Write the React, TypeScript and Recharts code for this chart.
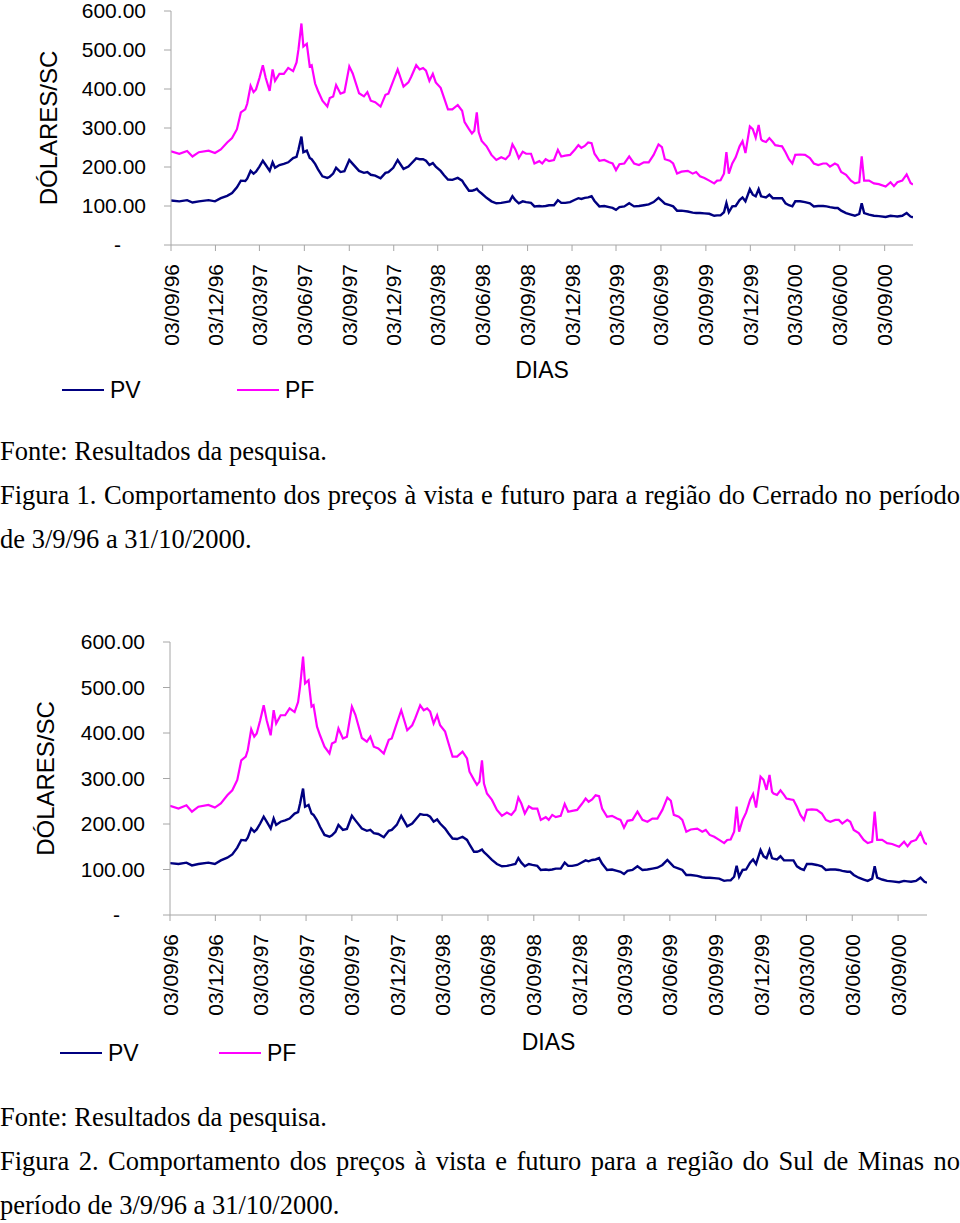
import React from "react"
import { LineChart, Line, XAxis, YAxis, Legend } from "recharts"

// Preços diários (US$/saca); as duas regiões têm curvas praticamente iguais
const dias = [
  "1996-09-03", "1996-09-20", "1996-10-06", "1996-10-17", "1996-10-30", "1996-11-19", "1996-12-02", "1996-12-14", "1996-12-27",
  "1997-01-06", "1997-01-16", "1997-01-24", "1997-02-02", "1997-02-06", "1997-02-13", "1997-02-19", "1997-02-24",
  "1997-03-03", "1997-03-10", "1997-03-16", "1997-03-24", "1997-03-30", "1997-04-04", "1997-04-13", "1997-04-22",
  "1997-05-01", "1997-05-11", "1997-05-18", "1997-05-22", "1997-05-28", "1997-06-01", "1997-06-08", "1997-06-14", "1997-06-18", "1997-06-25",
  "1997-07-01", "1997-07-10", "1997-07-20", "1997-07-25", "1997-08-01", "1997-08-07", "1997-08-16", "1997-08-24",
  "1997-09-03", "1997-09-10", "1997-09-23", "1997-10-03", "1997-10-10", "1997-10-17", "1997-10-26",
  "1997-11-06", "1997-11-16", "1997-11-22", "1997-12-02", "1997-12-11", "1997-12-23",
  "1998-01-02", "1998-01-08", "1998-01-18", "1998-01-25", "1998-02-01", "1998-02-07", "1998-02-14", "1998-02-21", "1998-02-27",
  "1998-03-09", "1998-03-16", "1998-03-24", "1998-04-02", "1998-04-13", "1998-04-22", "1998-04-27",
  "1998-05-06", "1998-05-12", "1998-05-17", "1998-05-22", "1998-05-26", "1998-06-01", "1998-06-11", "1998-06-21",
  "1998-07-01", "1998-07-11", "1998-07-20", "1998-07-28", "1998-08-03", "1998-08-09", "1998-08-16", "1998-08-24", "1998-08-31",
  "1998-09-10", "1998-09-17", "1998-09-27", "1998-10-03", "1998-10-10", "1998-10-17", "1998-10-27",
  "1998-11-04", "1998-11-11", "1998-11-19", "1998-11-29", "1998-12-09", "1998-12-16", "1998-12-22", "1998-12-29",
  "1999-01-05", "1999-01-12", "1999-01-18", "1999-01-28", "1999-02-07", "1999-02-17", "1999-02-24",
  "1999-03-03", "1999-03-10", "1999-03-20", "1999-03-30", "1999-04-09", "1999-04-19", "1999-04-29",
  "1999-05-09", "1999-05-19", "1999-05-29", "1999-06-05", "1999-06-11", "1999-06-21", "1999-06-28",
  "1999-07-06", "1999-07-15", "1999-07-28", "1999-08-07", "1999-08-14", "1999-08-22", "1999-08-31",
  "1999-09-10", "1999-09-20", "1999-09-26", "1999-10-03", "1999-10-10", "1999-10-15", "1999-10-20", "1999-10-27",
  "1999-11-03", "1999-11-11", "1999-11-17", "1999-11-23", "1999-12-02", "1999-12-08", "1999-12-14", "1999-12-20", "1999-12-25", "1999-12-28",
  "2000-01-04", "2000-01-11", "2000-01-18", "2000-01-23", "2000-01-31", "2000-02-06", "2000-02-13", "2000-02-20", "2000-02-27",
  "2000-03-04", "2000-03-14", "2000-03-24", "2000-04-03", "2000-04-11", "2000-04-20", "2000-04-30",
  "2000-05-07", "2000-05-14", "2000-05-24", "2000-05-30", "2000-06-06", "2000-06-16", "2000-06-26",
  "2000-07-04", "2000-07-13", "2000-07-18", "2000-07-23", "2000-08-02", "2000-08-12", "2000-08-22",
  "2000-09-05", "2000-09-15", "2000-09-22", "2000-09-29", "2000-10-09", "2000-10-18", "2000-10-26", "2000-10-31",
]

const pv = [
  114, 112, 115, 109, 112, 115, 112, 120, 126,
  133, 148, 165, 164, 170, 190, 183, 188,
  201, 216, 205, 190, 212, 198, 205, 208,
  212, 223, 226, 245, 278, 238, 242, 223, 220, 208,
  194, 176, 172, 175, 183, 198, 187, 189,
  218, 208, 190, 185, 187, 180, 178,
  171, 185, 187, 198, 218, 195,
  201, 209, 222, 220, 220, 216, 205, 210, 201,
  190, 179, 168, 167, 172, 165, 155,
  139, 139, 141, 144, 138, 132, 121, 112,
  107, 108, 110, 112, 125, 115, 107, 112, 110,
  108, 99, 100, 99, 100, 102, 102,
  115, 108, 108, 110, 116, 120, 118, 121,
  122, 125, 113, 99, 100, 97, 95,
  90, 97, 99, 107, 99, 100, 102,
  104, 110, 121, 113, 106, 102, 99,
  88, 88, 86, 83, 82, 82, 81,
  80, 75, 76, 76, 84, 108, 84, 99,
  100, 115, 122, 112, 143, 129, 125, 143, 125, 124,
  122, 129, 120, 120, 120, 120, 107, 102, 99,
  112, 112, 110, 107, 99, 100, 100,
  99, 97, 95, 95, 88, 82, 78,
  75, 80, 107, 82, 78, 75, 74,
  72, 75, 74, 73, 75, 82, 73, 71,
]

const pf = [
  240, 234, 241, 227, 238, 242, 236, 245, 263,
  274, 297, 340, 348, 362, 408, 392, 399,
  428, 461, 428, 395, 450, 421, 439, 439,
  454, 446, 468, 502, 568, 509, 516, 458, 461, 414,
  395, 370, 355, 377, 381, 410, 388, 392,
  458, 440, 389, 381, 392, 370, 366,
  355, 385, 388, 421, 450, 406,
  417, 432, 461, 450, 454, 447, 421, 439, 417,
  403, 377, 348, 348, 359, 344, 315,
  297, 286, 293, 340, 289, 267, 253, 231,
  218, 225, 220, 231, 258, 245, 223, 239, 234,
  234, 209, 215, 209, 220, 215, 218,
  244, 227, 229, 231, 245, 256, 249, 254,
  263, 261, 234, 216, 218, 212, 209,
  192, 207, 209, 227, 209, 205, 212,
  212, 231, 258, 251, 220, 216, 209,
  183, 188, 190, 183, 187, 176, 172,
  165, 158, 165, 166, 183, 238, 183, 209,
  225, 253, 266, 236, 304, 297, 275, 308, 271, 267,
  264, 274, 264, 256, 254, 253, 238, 220, 209,
  231, 232, 231, 223, 209, 205, 209,
  209, 201, 209, 205, 187, 180, 165,
  158, 161, 227, 165, 165, 158, 156,
  150, 161, 151, 161, 165, 181, 159, 155,
]

const trimestres = [
  "1996-09-03", "1996-12-03", "1997-03-03", "1997-06-03", "1997-09-03", "1997-12-03",
  "1998-03-03", "1998-06-03", "1998-09-03", "1998-12-03", "1999-03-03", "1999-06-03",
  "1999-09-03", "1999-12-03", "2000-03-03", "2000-06-03", "2000-09-03",
]
const ticksY = [0, 100, 200, 300, 400, 500, 600]
const inicio = "1996-09-03"
const fim = "2000-10-31"

const SANS = "'Liberation Sans', Arial, sans-serif"
const SERIF = "'Liberation Serif', 'Times New Roman', serif"
const AZUL = "#000080"
const ROSA = "#ff00ff"
const EIXO = "#a6a6a6"

const toT = (s: string) => {
  const [a, m, d] = s.split("-").map(Number)
  return Date.UTC(a, m - 1, d)
}
const fmtData = (t: number) => {
  const d = new Date(t)
  const p = (n: number) => String(n).padStart(2, "0")
  return `${p(d.getUTCDate())}/${p(d.getUTCMonth() + 1)}/${p(d.getUTCFullYear() % 100)}`
}

const dados = dias.map((d, i) => ({ t: toT(d), pv: pv[i], pf: pf[i] }))

function TickX(props: any) {
  const { x, y, payload } = props
  return (
    <text
      transform={`translate(${x + 7.5},${y + 13}) rotate(-90)`}
      textAnchor="end"
      fontSize={21}
      fontFamily={SANS}
      fill="#000"
    >
      {fmtData(payload.value)}
    </text>
  )
}

function TickY(props: any) {
  const { x, y, payload } = props
  const v = payload.value
  return (
    <text x={v === 0 ? x - 25 : x} y={y} dy="0.35em" textAnchor="end" fontSize={21} fontFamily={SANS} fill="#000">
      {v === 0 ? "-" : v.toFixed(2)}
    </text>
  )
}

function RotuloY(props: any) {
  const { viewBox, posX } = props
  const cy = viewBox.y + viewBox.height / 2
  return (
    <text
      x={posX}
      y={cy}
      transform={`rotate(-90, ${posX}, ${cy})`}
      textAnchor="middle"
      dominantBaseline="central"
      fontSize={24}
      fontFamily={SANS}
      fill="#000"
    >
      DÓLARES/SC
    </text>
  )
}

function RotuloX(props: any) {
  const { viewBox, dy } = props
  return (
    <text x={viewBox.x + viewBox.width / 2} y={viewBox.y + dy} textAnchor="middle" fontSize={23} fontFamily={SANS} fill="#000">
      DIAS
    </text>
  )
}

function Legenda(props: any) {
  const { payload, xs } = props
  return (
    <div style={{ position: "relative", width: 960, height: 30 }}>
      {(payload || []).map((e: any) => (
        <div
          key={e.value}
          style={{ position: "absolute", left: xs[e.value], top: 0, height: 30, display: "flex", alignItems: "center" }}
        >
          <div style={{ width: 42, height: 0, borderTop: `2px solid ${e.color}` }} />
          <span style={{ marginLeft: 6, fontSize: 23, fontFamily: SANS, color: "#000" }}>{e.value}</span>
        </div>
      ))}
    </div>
  )
}

function Grafico({ top, height, margin, labelX, diasDy, legendaTop, legendaXs }: any) {
  return (
    <div style={{ position: "absolute", left: 0, top }}>
      <LineChart width={960} height={height} data={dados} margin={margin}>
        <XAxis
          dataKey="t"
          type="number"
          domain={[toT(inicio), toT(fim)]}
          ticks={trimestres.map(toT)}
          allowDataOverflow
          height={120}
          stroke={EIXO}
          tickSize={6}
          tickMargin={0}
          tick={<TickX />}
          interval={0}
          label={<RotuloX dy={diasDy} />}
        />
        <YAxis
          domain={[0, 600]}
          ticks={ticksY}
          width={140}
          stroke={EIXO}
          tickSize={7}
          tickMargin={18}
          tick={<TickY />}
          interval={0}
          label={<RotuloY posX={labelX} />}
        />
        <Legend
          layout="horizontal"
          verticalAlign="middle"
          align="center"
          wrapperStyle={{ top: legendaTop, left: 0, width: 960, height: 30 }}
          content={<Legenda xs={legendaXs} />}
        />
        <Line type="linear" dataKey="pv" name="PV" stroke={AZUL} strokeWidth={2.4} dot={false} isAnimationActive={false} />
        <Line type="linear" dataKey="pf" name="PF" stroke={ROSA} strokeWidth={2.2} dot={false} isAnimationActive={false} />
      </LineChart>
    </div>
  )
}

function Legendas({ top, linhas }: { top: number; linhas: string[] }) {
  return (
    <div style={{ position: "absolute", left: 0, top, width: 960, fontFamily: SERIF, fontSize: 26.5, lineHeight: "44px", color: "#000" }}>
      {linhas.map((l, i) => (
        <div key={i} style={i === 1 ? { textAlign: "justify", textAlignLast: "justify" } : undefined}>
          {l}
        </div>
      ))}
    </div>
  )
}

export default function App() {
  return (
    <div style={{ position: "absolute", left: 0, top: 0, width: 960, height: 1223, background: "#fff", overflow: "hidden" }}>
      <Grafico
        top={0}
        height={410}
        margin={{ top: 11, right: 47, bottom: 45, left: 31 }}
        labelX={48}
        diasDy={133}
        legendaTop={375}
        legendaXs={{ PV: 62, PF: 237 }}
      />
      <Legendas
        top={429}
        linhas={[
          "Fonte: Resultados da pesquisa.",
          "Figura 1. Comportamento dos preços à vista e futuro para a região do Cerrado no período",
          "de 3/9/96 a 31/10/2000.",
        ]}
      />
      <Grafico
        top={630}
        height={440}
        margin={{ top: 12, right: 33, bottom: 35, left: 30 }}
        labelX={45}
        diasDy={135}
        legendaTop={408}
        legendaXs={{ PV: 60, PF: 219 }}
      />
      <Legendas
        top={1095}
        linhas={[
          "Fonte: Resultados da pesquisa.",
          "Figura 2. Comportamento dos preços à vista e futuro para a região do Sul de Minas no",
          "período de 3/9/96 a 31/10/2000.",
        ]}
      />
    </div>
  )
}
